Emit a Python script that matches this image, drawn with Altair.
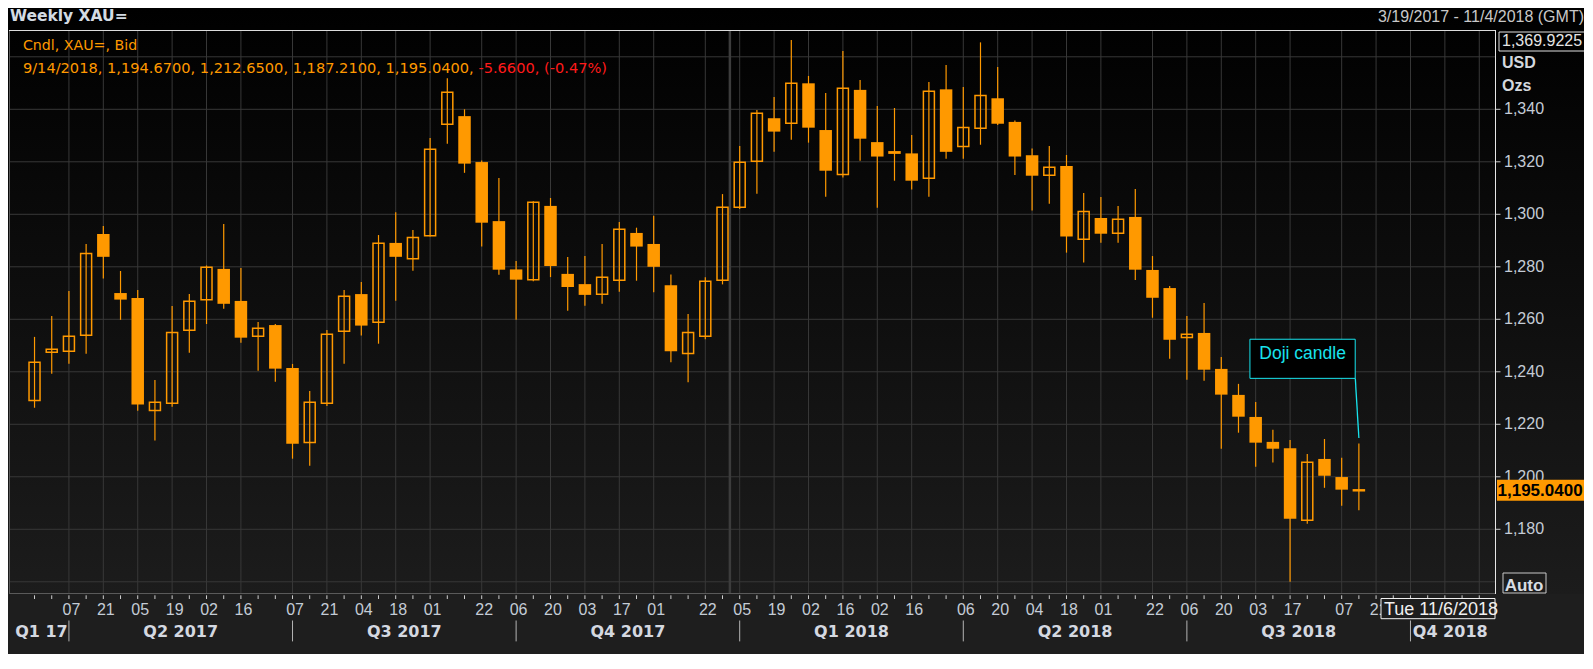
import altair as alt
import pandas as pd

# ---------------- data ----------------
first_week = "2017-03-24"
opens = [1229.1, 1247.4, 1247.8, 1253.9, 1292.5, 1270.0, 1268.1, 1225.3, 1228.0, 1255.8,
         1267.4, 1279.2, 1267.0, 1253.5, 1257.8, 1241.4, 1213.1, 1228.0, 1255.4, 1269.6,
         1258.9, 1289.1, 1283.1, 1291.8, 1334.3, 1337.4, 1319.9, 1297.4, 1279.0, 1275.1,
         1303.2, 1277.3, 1273.4, 1269.5, 1274.9, 1292.9, 1288.7, 1273.0, 1247.0, 1253.5,
         1274.9, 1302.7, 1320.2, 1336.6, 1334.7, 1349.9, 1332.1, 1315.2, 1347.4, 1327.5,
         1323.3, 1323.2, 1313.7, 1347.6, 1325.8, 1332.8, 1344.2, 1335.2, 1322.5, 1314.9,
         1318.4, 1290.5, 1298.6, 1292.8, 1299.0, 1278.8, 1271.9, 1253.1, 1254.8, 1241.1,
         1231.2, 1222.8, 1213.3, 1210.9, 1183.4, 1206.8, 1199.9, 1194.67]
highs = [1253.3, 1261.3, 1270.8, 1288.7, 1295.5, 1278.4, 1271.2, 1236.9, 1265.1, 1269.6,
         1280.5, 1296.3, 1279.5, 1259.0, 1258.2, 1243.0, 1232.7, 1255.9, 1271.2, 1274.2,
         1292.1, 1300.8, 1294.0, 1329.1, 1351.8, 1340.0, 1320.5, 1313.8, 1282.2, 1305.0,
         1306.2, 1283.7, 1284.1, 1288.7, 1297.1, 1294.9, 1299.4, 1277.1, 1262.0, 1276.0,
         1307.7, 1326.0, 1339.7, 1344.7, 1366.4, 1352.7, 1346.2, 1362.2, 1351.2, 1341.3,
         1340.5, 1330.2, 1350.4, 1356.9, 1348.5, 1365.5, 1356.1, 1335.7, 1325.1, 1326.0,
         1322.6, 1308.1, 1306.6, 1303.2, 1309.6, 1284.1, 1272.7, 1261.3, 1266.2, 1245.6,
         1235.4, 1228.5, 1217.9, 1214.0, 1208.7, 1214.4, 1207.3, 1212.65]
lows = [1226.3, 1239.3, 1243.1, 1246.9, 1275.5, 1259.8, 1225.2, 1213.8, 1226.7, 1247.3,
        1258.2, 1264.0, 1251.1, 1240.4, 1236.2, 1206.9, 1204.2, 1227.0, 1243.1, 1253.8,
        1250.7, 1267.1, 1278.5, 1291.5, 1326.9, 1315.8, 1287.7, 1277.0, 1259.8, 1274.5,
        1276.1, 1263.3, 1265.2, 1265.9, 1270.5, 1274.7, 1270.3, 1243.6, 1236.0, 1252.4,
        1273.3, 1302.0, 1307.8, 1323.8, 1328.4, 1327.3, 1306.7, 1314.0, 1320.4, 1302.5,
        1312.8, 1309.4, 1306.7, 1321.2, 1321.2, 1326.5, 1334.0, 1315.0, 1301.4, 1304.0,
        1285.4, 1281.6, 1289.2, 1289.2, 1275.0, 1260.6, 1245.0, 1237.0, 1236.6, 1210.7,
        1216.8, 1203.8, 1205.4, 1160.0, 1182.1, 1195.8, 1189.0, 1187.21]
closes = [1243.6, 1248.6, 1253.5, 1285.1, 1283.8, 1267.5, 1227.5, 1228.4, 1255.0, 1266.9,
          1279.8, 1265.9, 1253.0, 1256.6, 1241.2, 1212.6, 1228.4, 1254.3, 1268.8, 1257.6,
          1289.0, 1283.8, 1291.2, 1324.8, 1346.5, 1319.3, 1296.8, 1278.9, 1275.1, 1304.6,
          1280.3, 1272.3, 1269.3, 1276.0, 1294.3, 1287.7, 1280.0, 1247.8, 1255.0, 1274.5,
          1302.7, 1319.8, 1338.5, 1331.5, 1349.9, 1333.0, 1316.6, 1348.0, 1328.8, 1322.0,
          1323.8, 1312.8, 1346.9, 1323.8, 1333.1, 1345.3, 1334.5, 1322.0, 1314.7, 1317.9,
          1291.5, 1301.1, 1292.6, 1298.1, 1278.9, 1268.2, 1252.2, 1254.3, 1240.8, 1231.3,
          1222.9, 1213.0, 1210.7, 1184.0, 1205.5, 1200.4, 1195.1, 1195.04]
candle_dates = [d.strftime("%Y-%m-%d")
                for d in pd.date_range(first_week, periods=len(opens), freq="7D")]

weekly_ticks = [d.strftime("%Y-%m-%d")
                for d in pd.date_range("2017-03-24", "2018-11-02", freq="7D")]
label_dates = ["2017-04-07", "2017-04-21", "2017-05-05", "2017-05-19", "2017-06-02",
               "2017-06-16", "2017-07-07", "2017-07-21", "2017-08-04", "2017-08-18",
               "2017-09-01", "2017-09-22", "2017-10-06", "2017-10-20", "2017-11-03",
               "2017-11-17", "2017-12-01", "2017-12-22", "2018-01-05", "2018-01-19",
               "2018-02-02", "2018-02-16", "2018-03-02", "2018-03-16", "2018-04-06",
               "2018-04-20", "2018-05-04", "2018-05-18", "2018-06-01", "2018-06-22",
               "2018-07-06", "2018-07-20", "2018-08-03", "2018-08-17", "2018-09-07",
               "2018-09-21"]
extra_grid_dates = ["2018-10-05", "2018-10-19", "2018-11-02"]
year_break = ["2018-01-01"]
y_grid_values = [1160, 1180, 1200, 1220, 1240, 1260, 1280, 1300, 1320, 1340, 1360]
y_label_values = [1180, 1200, 1220, 1240, 1260, 1280, 1300, 1320, 1340]
quarter_names = ["Q1 17", "Q2 2017", "Q3 2017", "Q4 2017", "Q1 2018", "Q2 2018",
                 "Q3 2018", "Q4 2018"]
quarter_breaks = ["2017-04-07", "2017-07-07", "2017-10-06", "2018-01-05", "2018-04-06",
                  "2018-07-06", "2018-10-05"]

x_domain = ["2017-03-15 15:29", "2018-11-06 08:47"]
y_domain = [1155.35, 1370.21]
scale_top = 1369.9225

header_title = "Weekly XAU="
header_series = "Cndl, XAU=, Bid"
header_change = [-5.66, -0.47]
range_text = "3/19/2017 - 11/4/2018 (GMT)"
unit_texts = ["USD", "Ozs"]
auto_text = "Auto"
cursor_text = "Tue 11/6/2018"
annotation_text = "Doji candle"
ann_box_dates = ["2018-07-31T15:50:00Z", "2018-09-12T12:15:00Z"]
ann_box_prices = [1252.4, 1237.5]
ann_text_anchor = ["2018-08-22T02:00:00Z", 1246.6]
ann_line_dates = ["2018-09-12T13:00:00Z", "2018-09-14T00:00:00Z"]
ann_line_prices = [1237.5, 1214.8]

# ---------------- styling ----------------
W, H = 1486, 564
ORANGE = "#ff9900"
GRID = "#383838"
BORDER = "#5a5a5a"
CYAN = "#18e4ee"
AX_LABEL = "#c4ccd6"
FONT = "Liberation Sans"
HFONT = "DejaVu Sans"


def ms(s):
    t = pd.Timestamp(s)
    if t.tzinfo is None:
        t = t.tz_localize("UTC")
    return int(t.value // 10**6)


def iso(t):
    return pd.Timestamp(t).strftime("%Y-%m-%dT%H:%M:%SZ")


XS = alt.Scale(type="utc", domain=[ms(x_domain[0]), ms(x_domain[1])])
YS = alt.Scale(domain=y_domain, zero=False, nice=False)


def X(field):
    return alt.X(field, scale=XS, axis=None)


def Y(field):
    return alt.Y(field, scale=YS, axis=None)


candles = pd.DataFrame({"date": candle_dates, "open": opens, "high": highs,
                        "low": lows, "close": closes})
one = pd.DataFrame({"k": [0]})

# background gradient
bg = alt.Chart(one).mark_rect(
    fill=alt.LinearGradient(gradient="linear",
                            stops=[alt.GradientStop(color="#000000", offset=0),
                                   alt.GradientStop(color="#1c1c1c", offset=1)],
                            x1=0, x2=0, y1=0, y2=1)
).encode(x=alt.value(-1), x2=alt.value(1580), y=alt.value(-22), y2=alt.value(H))

hgrid = alt.Chart(pd.DataFrame({"price": y_grid_values})).mark_rule(
    color=GRID, strokeWidth=1).encode(y=Y("price:Q"), x=alt.value(0), x2=alt.value(W))

vgrid = alt.Chart(pd.DataFrame({"date": label_dates + extra_grid_dates})).mark_rule(
    color=GRID, strokeWidth=1).encode(x=X("date:T"), y=alt.value(0), y2=alt.value(H))

yearline = alt.Chart(pd.DataFrame({"date": year_break})).mark_rule(
    color="#3c3c3c", strokeWidth=2.5).encode(x=X("date:T"), y=alt.value(0), y2=alt.value(H))

left_border = alt.Chart(one).mark_rule(color=BORDER, strokeWidth=1).encode(
    x=alt.value(0.5), y=alt.value(0), y2=alt.value(H))
bottom_border = alt.Chart(one).mark_rule(color=BORDER, strokeWidth=1).encode(
    x=alt.value(0), x2=alt.value(W), y=alt.value(H - 0.5))
top_border = alt.Chart(one).mark_rule(color="#dcdcdc", strokeWidth=1).encode(
    x=alt.value(0), x2=alt.value(W), y=alt.value(0.5))
right_border = alt.Chart(one).mark_rule(color="#e6e6e6", strokeWidth=1).encode(
    x=alt.value(W + 0.5), y=alt.value(0), y2=alt.value(H))

# x "axis": weekly ticks + day labels
x_ticks = alt.Chart(pd.DataFrame({"date": weekly_ticks})).mark_rule(
    color="#cfcfcf", strokeWidth=1).encode(
    x=X("date:T"), y=alt.value(H + 1.3), y2=alt.value(H + 5))
x_labels = alt.Chart(pd.DataFrame({
    "date": label_dates,
    "day": [pd.Timestamp(d).strftime("%d") for d in label_dates]})).mark_text(
    font=FONT, fontSize=16, color=AX_LABEL, align="center", baseline="alphabetic",
    dx=2.5).encode(x=X("date:T"), y=alt.value(H + 21), text="day:N")

# y "axis" on the right
y_df = pd.DataFrame({"price": y_label_values,
                     "lab": [f"{v:,d}" for v in y_label_values]})
y_ticks = alt.Chart(y_df).mark_rule(color="#c8c8c8", strokeWidth=1).encode(
    y=Y("price:Q"), x=alt.value(W + 0.5), x2=alt.value(W + 5.5))
y_labels = alt.Chart(y_df).mark_text(
    font=FONT, fontSize=16, color=AX_LABEL, align="left", baseline="middle").encode(
    y=Y("price:Q"), x=alt.value(W + 9), text="lab:N")

wicks = alt.Chart(candles).mark_rule(color=ORANGE, strokeWidth=1.2).encode(
    x=X("date:T"), y=Y("low:Q"), y2="high:Q")

down = alt.Chart(candles).transform_filter("datum.close < datum.open").mark_bar(
    size=12.5, color=ORANGE).encode(x=X("date:T"), y=Y("open:Q"), y2="close:Q")

up = alt.Chart(candles).transform_filter("datum.close >= datum.open").mark_bar(
    size=11, fill="transparent", stroke=ORANGE, strokeWidth=1.5).encode(
    x=X("date:T"), y=Y("open:Q"), y2="close:Q")

# Doji annotation
ann_box = alt.Chart(pd.DataFrame({"d1": [ann_box_dates[0]], "d2": [ann_box_dates[1]],
                                  "p1": [ann_box_prices[0]], "p2": [ann_box_prices[1]]})
                    ).mark_rect(fill="#000000", stroke=CYAN, strokeWidth=1).encode(
    x=X("d1:T"), x2="d2:T", y=Y("p1:Q"), y2="p2:Q")
ann_txt = alt.Chart(pd.DataFrame({"d": [ann_text_anchor[0]], "p": [ann_text_anchor[1]],
                                  "t": [annotation_text]})).mark_text(
    font=FONT, fontSize=17.5, color=CYAN, align="center", baseline="middle").encode(
    x=X("d:T"), y=Y("p:Q"), text="t:N")
ann_line = alt.Chart(pd.DataFrame({"d1": [ann_line_dates[0]], "d2": [ann_line_dates[1]],
                                   "p1": [ann_line_prices[0]], "p2": [ann_line_prices[1]]})
                     ).mark_rule(color=CYAN, strokeWidth=1.3).encode(
    x=X("d1:T"), x2="d2:T", y=Y("p1:Q"), y2="p2:Q")

# header texts
last = pd.Timestamp(candle_dates[-1])
values_text = (f"{last.month}/{last.day}/{last.year}, {opens[-1]:,.4f}, {highs[-1]:,.4f}, "
               f"{lows[-1]:,.4f}, {closes[-1]:,.4f}, ")
change_text = f"{header_change[0]:.4f}, ({header_change[1]:.2f}%)"


def txt(s, x, y, size=14, color="#d0d0d0", bold=False, align="left", font=FONT,
        baseline="alphabetic"):
    return alt.Chart(one).mark_text(
        text=s, font=font, fontSize=size, color=color, align=align, baseline=baseline,
        fontWeight="bold" if bold else "normal").encode(x=alt.value(x), y=alt.value(y))


def box(x1, x2, y1, y2, fill, stroke):
    return alt.Chart(one).mark_rect(fill=fill, stroke=stroke, strokeWidth=1).encode(
        x=alt.value(x1), x2=alt.value(x2), y=alt.value(y1), y2=alt.value(y2))


texts = [
    txt(header_title, 0.9, -9.3, size=15.5, color="#d3dbe3", bold=True, font=HFONT),
    txt(header_series, 13.9, 20, size=14.2, color=ORANGE, font=HFONT),
    txt(values_text, 13.9, 42.7, size=14.6, color=ORANGE, font=HFONT),
    txt(change_text, 469.4, 42.7, size=14.6, color="#ff1a1a", font=HFONT),
    txt(range_text, 1575, -8.3, size=16, color="#c8c8c8", align="right"),
    box(1490, 1578, 2, 21, "#000000", "#e0e0e0"),
    txt(f"{scale_top:,.4f}", 1493, 15.7, size=16, color="#e4e4e4"),
    txt(unit_texts[0], 1493, 38.3, size=16, color="#d4d8de", bold=True),
    txt(unit_texts[1], 1493, 60.7, size=16, color="#d4d8de", bold=True),
    box(1494, 1537, 543, 563, "transparent", "#c8c8c8"),
    txt(auto_text, 1495.7, 560.7, size=17, color="#d8dde3", bold=True),
    box(1372, 1486, 568.5, 588.7, "#1e1e1e", "#f0f0f0"),
    txt(cursor_text, 1375, 585.4, size=18, color="#f0f0f0"),
]

last_df = pd.DataFrame({"price": [closes[-1]], "label": [f"{closes[-1]:,.4f}"]})
price_box = alt.Chart(last_df).mark_rect(
    fill=ORANGE, yOffset=-10, y2Offset=11).encode(
    x=alt.value(1488), x2=alt.value(1580), y=Y("price:Q"), y2="price:Q")
price_txt = alt.Chart(last_df).mark_text(
    font=FONT, fontSize=17, fontWeight="bold", color="#000000", align="left",
    baseline="middle", dy=1).encode(
    x=alt.value(1488.5), y=Y("price:Q"), text="label:N")

# quarter labels / separators
bounds = [pd.Timestamp(x_domain[0])] + [pd.Timestamp(d) for d in quarter_breaks] + \
         [pd.Timestamp(x_domain[1])]
q_centers = [iso(bounds[i] + (bounds[i + 1] - bounds[i]) / 2)
             for i in range(len(quarter_names))]
q_labels = alt.Chart(pd.DataFrame({"d": q_centers, "q": quarter_names})).mark_text(
    font=HFONT, fontSize=16, fontWeight="bold", color="#d4d8e0", align="center",
    baseline="alphabetic").encode(x=X("d:T"), y=alt.value(606.6), text="q:N")
q_seps = alt.Chart(pd.DataFrame({"d": quarter_breaks})).mark_rule(
    color="#b4b4b4", strokeWidth=1).encode(
    x=X("d:T"), y=alt.value(590.5), y2=alt.value(611.4))

chart = alt.layer(
    bg, hgrid, vgrid, yearline, left_border, bottom_border,
    wicks, down, up, ann_box, ann_txt, ann_line,
    x_ticks, x_labels, y_ticks, y_labels,
    *texts, price_box, price_txt, q_labels, q_seps,
    top_border, right_border,
).properties(
    width=W, height=H,
    padding={"left": 1, "top": 22, "right": 89, "bottom": 60},
    autosize=alt.AutoSizeParams(type="none"),
    background="#1e1e1e",
).configure_view(stroke=None)

chart.save("out.html", embed_options={"renderer": "svg", "actions": False})
